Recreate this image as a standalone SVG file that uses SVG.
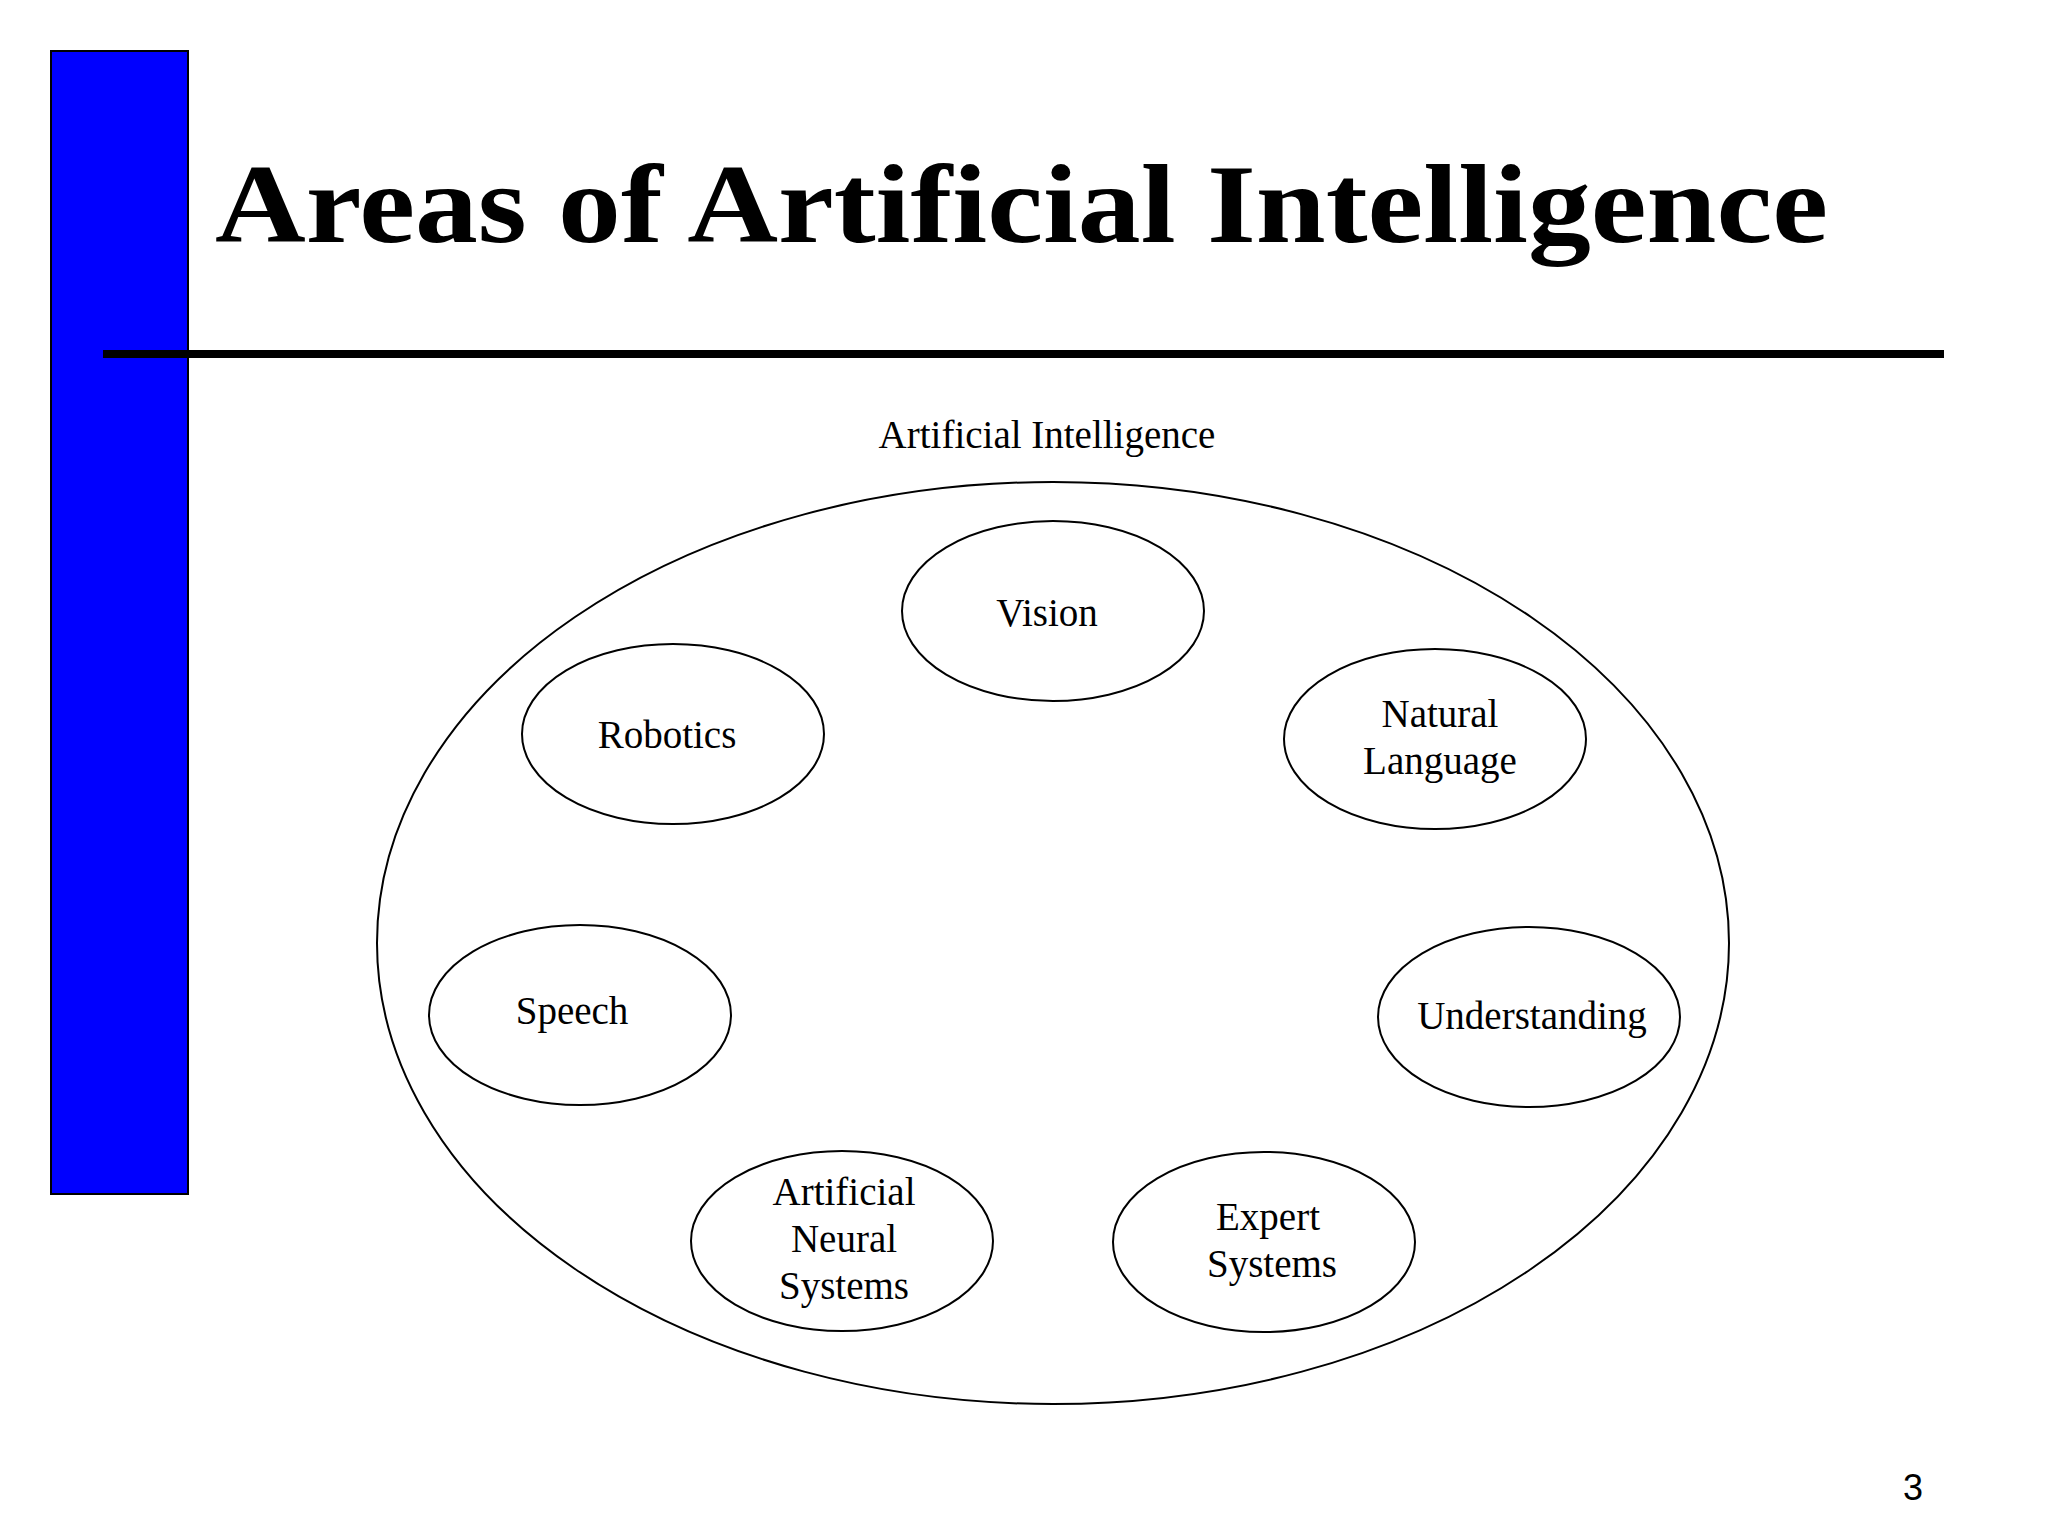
<svg xmlns="http://www.w3.org/2000/svg" width="2048" height="1536" viewBox="0 0 2048 1536">
<style>
.n{fill:#fff;stroke:#000;stroke-width:2}
.t{font-family:"Liberation Serif",serif;font-size:39px;text-anchor:middle;fill:#000}
</style>
<rect width="2048" height="1536" fill="#fff"/>
<rect x="51" y="51" width="137" height="1143" fill="#0000ff" stroke="#000" stroke-width="2"/>
<line x1="103" y1="354" x2="1944" y2="354" stroke="#000" stroke-width="8"/>
<text x="215" y="242" font-family="Liberation Serif,serif" font-weight="bold" font-size="112" textLength="1613" lengthAdjust="spacingAndGlyphs">Areas of Artificial Intelligence</text>
<g id="ai">
<ellipse class="n" cx="1053" cy="943" rx="676" ry="461"/>
<text class="t" x="1047" y="448" font-size="37">Artificial Intelligence</text>
</g>
<g id="vision"><ellipse class="n" cx="1053" cy="611" rx="151" ry="90"/><text class="t" x="1047" y="626">Vision</text></g>
<g id="robotics"><ellipse class="n" cx="673" cy="734" rx="151" ry="90"/><text class="t" x="667" y="748">Robotics</text></g>
<g id="nl"><ellipse class="n" cx="1435" cy="739" rx="151" ry="90"/><text class="t" x="1440" y="727">Natural</text><text class="t" x="1440" y="774">Language</text></g>
<g id="speech"><ellipse class="n" cx="580" cy="1015" rx="151" ry="90"/><text class="t" x="572" y="1024">Speech</text></g>
<g id="und"><ellipse class="n" cx="1529" cy="1017" rx="151" ry="90"/><text class="t" x="1532" y="1029">Understanding</text></g>
<g id="ans"><ellipse class="n" cx="842" cy="1241" rx="151" ry="90"/><text class="t" x="844" y="1205">Artificial</text><text class="t" x="844" y="1252">Neural</text><text class="t" x="844" y="1299">Systems</text></g>
<g id="es"><ellipse class="n" cx="1264" cy="1242" rx="151" ry="90"/><text class="t" x="1268" y="1230">Expert</text><text class="t" x="1272" y="1277">Systems</text></g>
<g id="connectors"/>
<text x="1913" y="1500" font-family="Liberation Sans,sans-serif" font-size="36" text-anchor="middle">3</text>
</svg>
